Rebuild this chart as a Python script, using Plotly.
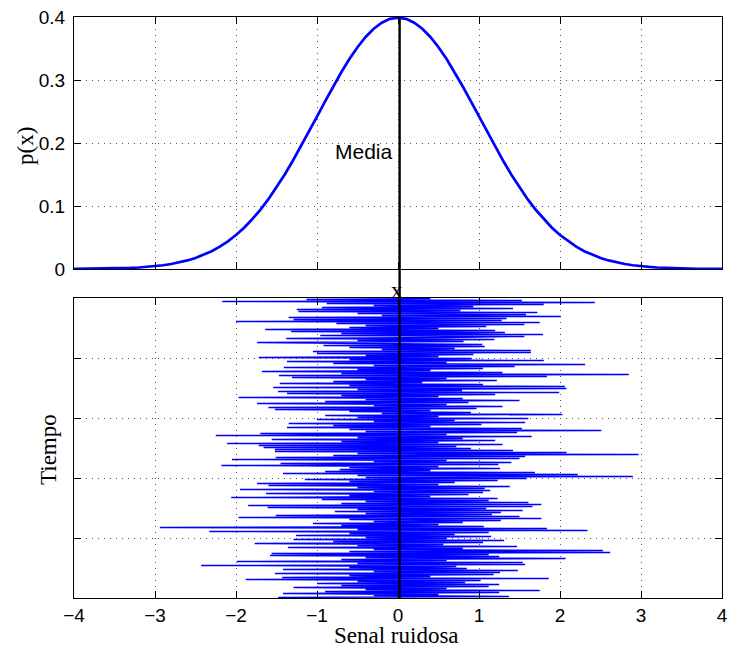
import plotly.graph_objects as go

# ---- Data ----
x_pdf = [round(-4 + 0.1 * i, 1) for i in range(81)]
p_pdf = [0.0001, 0.0002, 0.0003, 0.0004, 0.0006, 0.0009, 0.0012, 0.0017, 0.0024, 0.0033,
         0.0044, 0.0060, 0.0079, 0.0104, 0.0136, 0.0175, 0.0224, 0.0283, 0.0355, 0.0440,
         0.0540, 0.0656, 0.0790, 0.0940, 0.1109, 0.1295, 0.1497, 0.1714, 0.1942, 0.2179,
         0.2420, 0.2661, 0.2897, 0.3123, 0.3332, 0.3521, 0.3683, 0.3814, 0.3910, 0.3970,
         0.3989,
         0.3970, 0.3910, 0.3814, 0.3683, 0.3521, 0.3332, 0.3123, 0.2897, 0.2661, 0.2420,
         0.2179, 0.1942, 0.1714, 0.1497, 0.1295, 0.1109, 0.0940, 0.0790, 0.0656, 0.0540,
         0.0440, 0.0355, 0.0283, 0.0224, 0.0175, 0.0136, 0.0104, 0.0079, 0.0060, 0.0044,
         0.0033, 0.0024, 0.0017, 0.0012, 0.0009, 0.0006, 0.0004, 0.0003, 0.0002, 0.0001]

media = 0.02
pico = 0.397

# noisy signal, listed from the latest sample (top) to the earliest (bottom)
senal = [
    0.4, -1.13, 1.53, -2.17, 2.43, -0.88, 1.80, -0.3, 0.93, -0.94,
    1.42, -1.25, 0.77, -1.23, 1.72, -0.5, 1.58, -0.2, 2.01, -1.35,
    1.34, -1.29, 1.28, -2.00, 1.75, -0.76, 1.56, -0.4, 1.09, -0.6,
    0.5, -1.64, 1.20, -1.32, 1.32, -0.7, 1.79, -0.96, 1.56, 0.6,
    -1.38, 1.19, -0.5, 0.81, -1.74, 0.3, 1.04, -0.92, 1.07, -0.6,
    0.7, -0.2, 1.64, -1.05, 1.64, -1.00, 0.93, -0.4, 0.5, -1.72,
    0.91, -0.6, 1.80, -1.37, 0.6, -0.8, 2.31, -0.3, 1.44, -1.41,
    1.05, -0.5, 0.4, -1.68, 1.29, -0.7, 2.85, -1.47, 1.84, -1.31,
    0.6, -0.4, 1.22, -0.8, 0.3, -1.46, 1.05, -0.6, 2.06, -1.54,
    2.08, -0.5, 0.79, -1.48, 1.99, -1.37, 1.20, -0.7, 0.5, -1.97,
    0.8, -0.4, 1.50, -0.9, 0.87, -1.74, 0.6, -0.3, 1.29, -1.60,
    0.97, -1.52, 0.4, -0.6, 0.9, -0.2, 2.03, -0.90, 0.5, -0.5,
    1.61, -1.00, 0.7, -0.3, 1.57, -1.35, 1.03, -0.8, 0.4, -1.37,
    1.53, -0.6, 2.51, -0.4, 1.47, -1.70, 0.6, -2.25, 1.65, -0.5,
    0.8, -1.56, 1.20, -0.7, 0.5, -2.11, 1.29, -1.72, 0.72, -1.66,
    0.9, -1.52, 1.42, -1.52, 2.08, -0.5, 2.97, -0.8, 1.57, -1.51,
    1.50, -2.05, 0.6, -0.3, 1.40, -1.45, 1.24, -2.18, 0.5, -0.6,
    1.26, -0.72, 0.4, -0.9, 1.69, -1.42, 2.22, -0.5, 2.90, -0.4,
    1.59, -1.15, 1.23, -0.6, 0.7, -1.74, 0.5, -1.60, 1.38, -0.5,
    1.07, -1.95, 1.14, -0.3, 1.05, -1.63, 0.87, -0.6, 0.4, -2.06,
    1.23, -0.94, 1.12, -0.4, 1.61, -0.7, 1.77, -1.85, 1.66, -1.61,
    1.09, -0.5, 1.54, -0.78, 1.27, -0.4, 1.16, -1.51, 1.50, -1.97,
    1.77, -0.6, 1.27, -0.3, 0.80, -1.05, 0.5, -0.7, 1.06, -2.94,
    1.84, -0.5, 2.34, -2.33, 1.12, -0.6, 0.7, -1.26, 1.15, -0.4,
    0.6, -1.29, 1.31, -0.8, 1.05, -1.77, 0.56, -0.5, 1.47, -1.36,
    0.8, -0.3, 2.53, -0.6, 2.62, -1.56, 1.12, -1.58, 1.25, -0.4,
    2.07, -0.7, 0.6, -1.99, 1.54, -0.5, 1.57, -2.43, 0.72, -0.6,
    0.85, -1.42, 1.48, -0.3, 1.26, -1.52, 1.18, -0.6, 0.4, -1.43,
    1.86, -1.88, 1.02, -0.5, 0.83, -1.00, 1.25, -0.7, 1.12, -1.29,
    0.6, -0.4, 1.75, -0.9, 1.25, -1.42, 0.5, -0.3, 1.37, -1.48,
]
n = len(senal)
tiempo = [n - 0.5 - k for k in range(n)]

x_ticks = [-4, -3, -2, -1, 0, 1, 2, 3, 4]
p_ticks = [0, 0.1, 0.2, 0.3, 0.4]
t_ticks = [60, 120, 180, 240]

# ---- Layout geometry (pixels of a 729x650 page) ----
W, H = 729, 650
xl, xr = 74, 722
top_t, top_b = 17, 269
bot_t, bot_b = 298, 598


def py(v):
    return 1 - v / H


fig = go.Figure()
fig.add_trace(go.Scatter(x=x_pdf, y=p_pdf, mode="lines",
                         line=dict(color="#0000ff", width=2.7),
                         xaxis="x", yaxis="y", showlegend=False))
fig.add_trace(go.Scatter(x=senal, y=tiempo, mode="lines",
                         line=dict(color="#0000ff", width=1.3),
                         xaxis="x2", yaxis="y2", showlegend=False))

sans = "Liberation Sans, Arial, sans-serif"
serif = "Liberation Serif, Times New Roman, serif"

axis_common = dict(
    showline=True, linecolor="black", linewidth=1, mirror="ticks",
    ticks="inside", ticklen=7, tickcolor="black", tickwidth=1,
    showgrid=True, gridcolor="#555555", gridwidth=1, griddash="1px,5px",
    zeroline=False, automargin=False,
    tickfont=dict(family=sans, size=19, color="black"),
)

top_dom = [py(top_b), py(top_t)]
bot_dom = [py(bot_b), py(bot_t)]

fig.update_layout(
    width=W, height=H,
    margin=dict(l=0, r=0, t=0, b=0, autoexpand=False),
    paper_bgcolor="white", plot_bgcolor="white",
    xaxis=dict(domain=[xl / W, xr / W], range=[-4, 4], tickvals=x_ticks,
               showticklabels=False, anchor="y", **axis_common),
    yaxis=dict(domain=top_dom, range=[0, 0.4], tickvals=p_ticks,
               ticktext=["0", "0.1", "0.2", "0.3", "0.4"], anchor="x",
               ticklabelstandoff=4, **axis_common),
    xaxis2=dict(domain=[xl / W, xr / W], range=[-4, 4], tickvals=x_ticks,
                anchor="y2", ticklabelstandoff=0, **axis_common),
    yaxis2=dict(domain=bot_dom, range=[0, n], tickvals=t_ticks,
                showticklabels=False, anchor="x2", **axis_common),
)

# mean line: from the peak of the density down through the noise panel
y_peak_paper = top_dom[0] + (pico / 0.4) * (top_dom[1] - top_dom[0])
fig.add_shape(type="line", xref="x", yref="paper",
              x0=media, x1=media, y0=bot_dom[0], y1=y_peak_paper,
              line=dict(color="black", width=2.4), layer="above")

fig.add_annotation(x=-0.8, y=0.186, xref="x", yref="y", text="Media",
                   showarrow=False, xanchor="left", yanchor="middle",
                   font=dict(family=sans, size=21, color="black"))
fig.add_annotation(x=media - 0.03, y=py(291), xref="x", yref="paper", text="x",
                   showarrow=False, xanchor="center", yanchor="middle",
                   font=dict(family=serif, size=23, color="black"))
fig.add_annotation(x=396 / W, y=py(635), xref="paper", yref="paper",
                   text="Senal ruidosa", showarrow=False,
                   xanchor="center", yanchor="middle", borderpad=0,
                   font=dict(family=serif, size=23, color="black"))
fig.add_annotation(x=48 / W, y=py(450), xref="paper", yref="paper",
                   text="Tiempo", showarrow=False, textangle=-90,
                   xanchor="center", yanchor="middle",
                   font=dict(family=serif, size=23, color="black"))
fig.add_annotation(x=25 / W, y=py(146), xref="paper", yref="paper",
                   text="p(x)", showarrow=False, textangle=-90,
                   xanchor="center", yanchor="middle",
                   font=dict(family=serif, size=23, color="black"))

fig.write_html(
    "out.html",
    config={"displayModeBar": False},
    post_script="document.body.style.margin='0';document.body.style.overflow='hidden';",
)
